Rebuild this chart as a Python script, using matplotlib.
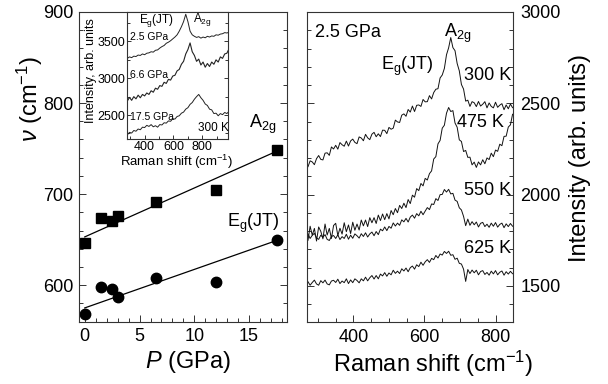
import matplotlib
matplotlib.use('Agg')
import matplotlib.pyplot as plt
from matplotlib.ticker import MultipleLocator
import numpy as np

plt.rcParams['font.family'] = ['Liberation Sans', 'DejaVu Sans']
plt.rcParams['mathtext.fontset'] = 'custom'
plt.rcParams['mathtext.rm'] = 'Liberation Sans'
plt.rcParams['mathtext.it'] = 'Liberation Sans:italic'
plt.rcParams['mathtext.bf'] = 'Liberation Sans:bold'

# left panel: mode frequency vs pressure
pressure = [0, 1.5, 2.5, 3.0, 6.5, 12.0, 17.5]
a2g_freq = [646, 674, 671, 676, 691, 704, 748]
eg_freq = [568, 598, 596, 587, 608, 603, 650]

# straight-line fits as drawn (end points)
fit_p = [0, 17.5]
a2g_fit = [653, 747]
eg_fit = [575, 649]

# right panel: spectra at 2.5 GPa, Raman shift grid 272..848 cm-1
shift = np.arange(272, 849, 6)

spec_300K = [2153, 2185, 2179, 2164, 2197, 2214, 2193, 2190, 2227, 2229,
             2215, 2261, 2250, 2270, 2249, 2285, 2273, 2265, 2293, 2266,
             2294, 2304, 2286, 2279, 2316, 2310, 2295, 2330, 2311, 2301,
             2331, 2341, 2317, 2333, 2318, 2353, 2352, 2334, 2368, 2358,
             2364, 2408, 2398, 2395, 2435, 2442, 2429, 2466, 2452, 2485,
             2455, 2489, 2491, 2483, 2521, 2508, 2509, 2542, 2524, 2559,
             2577, 2580, 2639, 2655, 2691, 2766, 2804, 2860, 2805, 2788,
             2718, 2678, 2603, 2578, 2512, 2517, 2483, 2509, 2503, 2482,
             2510, 2485, 2495, 2509, 2475, 2502, 2483, 2475, 2506, 2478,
             2490, 2498, 2465, 2491, 2470, 2496, 2476]

spec_475K = [1750, 1827, 1778, 1815, 1746, 1823, 1799, 1758, 1839, 1779,
             1815, 1760, 1831, 1843, 1776, 1816, 1784, 1846, 1797, 1834,
             1787, 1849, 1805, 1839, 1806, 1861, 1829, 1861, 1825, 1874,
             1846, 1874, 1842, 1888, 1858, 1894, 1863, 1896, 1867, 1913,
             1890, 1924, 1901, 1941, 1924, 1953, 1929, 1973, 1951, 1997,
             1986, 2033, 2022, 2061, 2048, 2089, 2080, 2115, 2130, 2195,
             2208, 2278, 2297, 2364, 2380, 2446, 2477, 2455, 2460, 2392,
             2369, 2300, 2291, 2236, 2242, 2204, 2205, 2163, 2178, 2149,
             2179, 2163, 2191, 2169, 2201, 2192, 2227, 2208, 2244, 2237,
             2276, 2268, 2319, 2320, 2370, 2382, 2440]

spec_550K = [1785, 1760, 1777, 1788, 1763, 1755, 1778, 1767, 1781, 1755,
             1749, 1771, 1776, 1760, 1780, 1754, 1770, 1760, 1783, 1756,
             1778, 1761, 1785, 1775, 1762, 1786, 1771, 1791, 1768, 1785,
             1795, 1775, 1798, 1781, 1811, 1802, 1823, 1803, 1826, 1816,
             1845, 1828, 1844, 1832, 1862, 1851, 1870, 1850, 1877, 1888,
             1871, 1896, 1884, 1909, 1890, 1910, 1929, 1918, 1949, 1946,
             1978, 1968, 2000, 2001, 2028, 2014, 2029, 2004, 2007, 1970,
             1963, 1928, 1916, 1881, 1830, 1866, 1832, 1852, 1835, 1850,
             1823, 1843, 1848, 1825, 1838, 1821, 1844, 1827, 1847, 1822,
             1837, 1844, 1819, 1840, 1825, 1842, 1827]

spec_625K = [1523, 1504, 1519, 1532, 1511, 1504, 1529, 1517, 1532, 1511,
             1506, 1527, 1531, 1519, 1537, 1513, 1527, 1518, 1539, 1513,
             1533, 1518, 1539, 1530, 1517, 1539, 1528, 1548, 1528, 1545,
             1557, 1538, 1557, 1539, 1565, 1555, 1573, 1553, 1571, 1561,
             1586, 1569, 1581, 1568, 1594, 1582, 1598, 1578, 1600, 1609,
             1592, 1616, 1606, 1630, 1613, 1632, 1644, 1629, 1651, 1644,
             1667, 1653, 1675, 1669, 1689, 1678, 1690, 1668, 1671, 1646,
             1652, 1624, 1620, 1592, 1525, 1590, 1568, 1587, 1572, 1586,
             1561, 1579, 1584, 1563, 1574, 1559, 1581, 1566, 1584, 1561,
             1575, 1582, 1559, 1578, 1565, 1580, 1567]

# inset: spectra at 300 K for three pressures, grid 280..985 cm-1
inset_shift = np.arange(280, 986, 15)

ins_2p5 = [3270, 3290, 3280, 3300, 3295, 3315, 3310, 3330, 3320, 3340,
           3345, 3360, 3355, 3380, 3385, 3410, 3430, 3445, 3475, 3490,
           3510, 3535, 3560, 3590, 3640, 3700, 3770, 3870, 3770, 3640,
           3590, 3570, 3555, 3565, 3545, 3560, 3550, 3570, 3560, 3575,
           3570, 3590, 3585, 3600, 3605, 3620, 3615, 3625]

ins_6p6 = [2690, 2740, 2700, 2750, 2720, 2770, 2735, 2780, 2760, 2800,
           2780, 2830, 2810, 2865, 2850, 2900, 2890, 2945, 2930, 2985,
           2975, 3030, 3040, 3100, 3120, 3190, 3230, 3330, 3390, 3480,
           3360, 3310, 3230, 3260, 3180, 3220, 3150, 3200, 3160, 3220,
           3190, 3250, 3220, 3290, 3270, 3330, 3340, 3400]

ins_17p5 = [2230, 2265, 2255, 2290, 2280, 2310, 2300, 2335, 2330, 2360,
            2345, 2370, 2340, 2355, 2335, 2370, 2365, 2395, 2390, 2420,
            2415, 2450, 2445, 2480, 2490, 2525, 2540, 2580, 2600, 2645,
            2670, 2715, 2750, 2780, 2735, 2700, 2650, 2630, 2580, 2570,
            2520, 2525, 2490, 2520, 2505, 2535, 2520, 2550]

frame_col = '#333333'


def style_axes(ax, size, major_len, minor_len, pad):
    for s in ax.spines.values():
        s.set_linewidth(0.8)
        s.set_color(frame_col)
    ax.tick_params(which='both', direction='in', color=frame_col,
                   labelsize=size, width=0.7, pad=pad, top=False)
    ax.tick_params(which='major', length=major_len)
    ax.tick_params(which='minor', length=minor_len)


fig = plt.figure(figsize=(6.08, 3.84), dpi=100)

# ---- left panel
ax1 = fig.add_axes([0.1304, 0.1602, 0.3424, 0.8086])
ax1.plot(fit_p, a2g_fit, '-', color='black', lw=0.9)
ax1.plot(fit_p, eg_fit, '-', color='black', lw=0.9)
ax1.plot(pressure, a2g_freq, 's', color='black', ms=7.5)
ax1.plot(pressure, eg_freq, 'o', color='black', ms=7.5)
ax1.set_xlim(-0.5, 18.5)
ax1.set_ylim(559, 900)
ax1.xaxis.set_major_locator(MultipleLocator(5))
ax1.xaxis.set_minor_locator(MultipleLocator(1))
ax1.yaxis.set_major_locator(MultipleLocator(100))
ax1.yaxis.set_minor_locator(MultipleLocator(20))
style_axes(ax1, 13, 5, 3, 4)
ax1.tick_params(axis='y', which='both', left=True, right=True)
ax1.set_xlabel('$P$ (GPa)', fontsize=17)
ax1.set_ylabel(r'$\nu$ (cm$^{-1}$)', fontsize=17)
ax1.xaxis.set_label_coords(0.522, -0.085)
ax1.yaxis.set_label_coords(-0.165, 0.72)
ax1.text(16.2, 776, r'A$_\mathrm{2g}$', fontsize=13, ha='center', va='center')
ax1.text(15.4, 668, r'E$_\mathrm{g}$(JT)', fontsize=13, ha='center', va='center')

# ---- inset
axi = fig.add_axes([0.2094, 0.6372, 0.1661, 0.3315])
axi.plot(inset_shift, ins_2p5, '-', color='#222222', lw=0.7)
axi.plot(inset_shift, ins_6p6, '-', color='#222222', lw=0.8)
axi.plot(inset_shift, ins_17p5, '-', color='#222222', lw=0.7)
axi.set_xlim(280, 980)
axi.set_ylim(2170, 3900)
axi.xaxis.set_major_locator(MultipleLocator(200))
axi.xaxis.set_minor_locator(MultipleLocator(100))
axi.yaxis.set_major_locator(MultipleLocator(500))
axi.yaxis.set_minor_locator(MultipleLocator(250))
style_axes(axi, 9, 3, 2, 1.5)
axi.tick_params(axis='y', which='both', left=True, right=True)
axi.set_xlabel('Raman shift (cm$^{-1}$)', fontsize=9.5)
axi.set_ylabel('Intensity, arb. units', fontsize=9)
axi.xaxis.set_label_coords(0.49, -0.105)
axi.yaxis.set_label_coords(-0.30, 0.54)
axi.text(484, 3790, r'E$_\mathrm{g}$(JT)', fontsize=8.5, ha='center', va='center')
axi.text(732, 3800, r'A$_\mathrm{2g}$', fontsize=8.5, ha='left', va='center')
axi.text(300, 3555, '2.5 GPa', fontsize=7.5, ha='left', va='center')
axi.text(300, 3048, '6.6 GPa', fontsize=7.5, ha='left', va='center')
axi.text(300, 2477, '17.5 GPa', fontsize=7.5, ha='left', va='center')
axi.text(874, 2322, '300 K', fontsize=8.5, ha='center', va='center')

# ---- right panel
ax2 = fig.add_axes([0.5054, 0.1602, 0.3388, 0.8086])
for spec in [spec_300K, spec_475K, spec_550K, spec_625K]:
    ax2.plot(shift, spec, '-', color='#111111', lw=0.7)
ax2.set_xlim(270, 850)
ax2.set_ylim(1300, 3000)
ax2.xaxis.set_major_locator(MultipleLocator(200))
ax2.xaxis.set_minor_locator(MultipleLocator(50))
ax2.yaxis.set_major_locator(MultipleLocator(500))
ax2.yaxis.set_minor_locator(MultipleLocator(100))
style_axes(ax2, 13, 5, 3, 5)
ax2.tick_params(axis='y', which='both', left=True, right=True,
                labelleft=False, labelright=True)
ax2.yaxis.set_label_position('right')
ax2.set_xlabel('Raman shift (cm$^{-1}$)', fontsize=17)
ax2.set_ylabel('Intensity (arb. units)', fontsize=17)
ax2.xaxis.set_label_coords(0.61, -0.085)
ax2.yaxis.set_label_coords(1.27, 0.53)
ax2.text(292, 2890, '2.5 GPa', fontsize=13, ha='left', va='center')
ax2.text(694, 2885, r'A$_\mathrm{2g}$', fontsize=13, ha='center', va='center')
ax2.text(552, 2700, r'E$_\mathrm{g}$(JT)', fontsize=13, ha='center', va='center')
ax2.text(777, 2654, '300 K', fontsize=13, ha='center', va='center')
ax2.text(758, 2397, '475 K', fontsize=13, ha='center', va='center')
ax2.text(777, 2022, '550 K', fontsize=13, ha='center', va='center')
ax2.text(779, 1703, '625 K', fontsize=13, ha='center', va='center')

fig.savefig('out.png', dpi=100)
